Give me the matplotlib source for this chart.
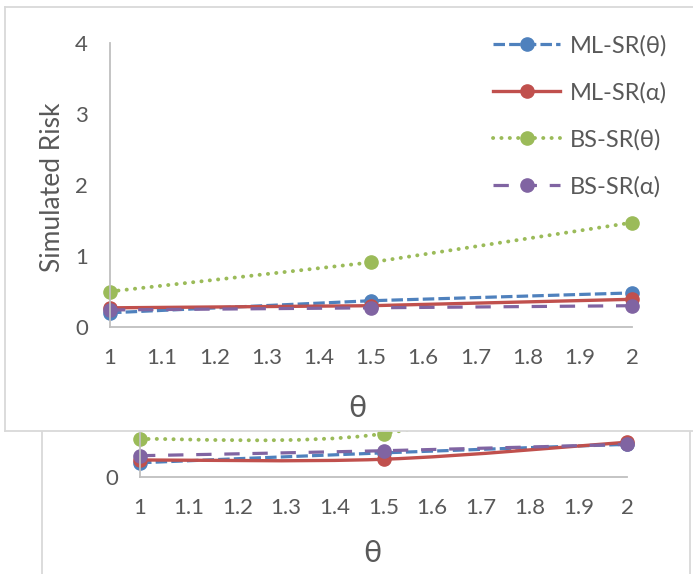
import matplotlib
matplotlib.use('Agg')
import matplotlib.pyplot as plt
from matplotlib.patches import Rectangle, PathPatch
from matplotlib.path import Path

# data
theta = [1.0, 1.5, 2.0]
ml_theta = [0.20, 0.37, 0.48]
ml_alpha = [0.27, 0.30, 0.39]
bs_theta = [0.50, 0.91, 1.47]
bs_alpha = [0.24, 0.27, 0.30]

# second chart (mostly hidden behind the first one), smoothed lines
ml_theta_b = [0.20, 0.34, 0.46]
ml_alpha_b = [0.24, 0.25, 0.49]
bs_theta_b = [0.535, 0.61, 1.50]
bs_alpha_b = [0.30, 0.37, 0.46]

labels = ['ML-SR(θ)', 'ML-SR(α)', 'BS-SR(θ)', 'BS-SR(α)']
colors = ['#4f81bd', '#c0504d', '#9bbb59', '#8064a2']
DOT = (0, (0.05, 2.1))
styles = [(0, (3.6, 1.3)), '-', DOT, (0, (4.8, 4.0))]
widths = [2.3, 2.4, 2.8, 2.3]
xticks = [1, 1.1, 1.2, 1.3, 1.4, 1.5, 1.6, 1.7, 1.8, 1.9, 2]
xticklabels = ['1', '1.1', '1.2', '1.3', '1.4', '1.5', '1.6', '1.7', '1.8', '1.9', '2']

W, H = 693, 574
TXT = '#595959'
AXC = '#bfbfbf'
plt.rcParams['font.family'] = ['Lato', 'DejaVu Sans']

fig = plt.figure(figsize=(W / 100, H / 100), dpi=100)

def fx(px): return px / W
def fy(py): return 1 - py / H

MS = 9.5

def capstyle(ls):
    return 'round' if ls == DOT else 'butt'

def draw_series(ax, series):
    handles = []
    for y, c, ls, lw in zip(series, colors, styles, widths):
        h, = ax.plot(theta, y, color=c, ls=ls, lw=lw, marker='o', ms=MS,
                     mec=c, mfc=c, clip_on=False, dash_capstyle=capstyle(ls))
        handles.append(h)
    return handles

def draw_smooth(ax, series):
    # Excel style smoothed line: cubic bezier through the points
    for y, c, ls, lw in zip(series, colors, styles, widths):
        pts = list(zip(theta, y))
        verts, codes = [pts[0]], [Path.MOVETO]
        for i in range(len(pts) - 1):
            p0 = pts[max(i - 1, 0)]; p1 = pts[i]
            p2 = pts[i + 1]; p3 = pts[min(i + 2, len(pts) - 1)]
            c1 = (p1[0] + (p2[0] - p0[0]) / 6, p1[1] + (p2[1] - p0[1]) / 6)
            c2 = (p2[0] - (p3[0] - p1[0]) / 6, p2[1] - (p3[1] - p1[1]) / 6)
            verts += [c1, c2, p2]; codes += [Path.CURVE4] * 3
        ax.add_patch(PathPatch(Path(verts, codes), fill=False, ec=c, lw=lw,
                               ls=ls, capstyle=capstyle(ls), clip_on=False))
        ax.plot(theta, y, ls='none', marker='o', ms=MS, mec=c, mfc=c, clip_on=False)

def style_axes(ax):
    ax.set_xlim(1, 2); ax.set_ylim(0, 4)
    for s in ['top', 'right']: ax.spines[s].set_visible(False)
    for s in ['left', 'bottom']:
        ax.spines[s].set_color(AXC); ax.spines[s].set_linewidth(1.3)
    ax.set_xticks(xticks); ax.set_xticklabels(xticklabels)
    ax.tick_params(length=0, labelsize=16, colors=TXT)
    ax.tick_params(axis='x', pad=15)
    ax.tick_params(axis='y', pad=16)
    ax.patch.set_alpha(0)

# bottom chart (behind)
fig.patches.append(Rectangle((fx(42), fy(H + 5)), fx(690) - fx(42), fy(300) - fy(H + 5),
    transform=fig.transFigure, fc='white', ec='#d9d9d9', lw=1.3, zorder=0))
axb = fig.add_axes([fx(140), fy(477), fx(627) - fx(140), 284 / H], zorder=1)
style_axes(axb)
axb.set_yticks([0])
draw_smooth(axb, [ml_theta_b, ml_alpha_b, bs_theta_b, bs_alpha_b])
fig.text(fx(372), fy(553), 'θ', fontsize=22, color=TXT, ha='center', va='center')

# top chart (front)
cover = fig.add_axes([fx(5), fy(431), fx(710) - fx(5), (431 - 7) / H], zorder=2)
cover.set_xticks([]); cover.set_yticks([])
cover.set_facecolor('white')
for s in cover.spines.values():
    s.set_color('#d9d9d9'); s.set_linewidth(1.3)

ax = fig.add_axes([fx(110), fy(327), fx(632) - fx(110), 284 / H], zorder=3)
style_axes(ax)
ax.set_yticks([0, 1, 2, 3, 4])
hs = draw_series(ax, [ml_theta, ml_alpha, bs_theta, bs_alpha])
fig.text(fx(357), fy(408), 'θ', fontsize=22, color=TXT, ha='center', va='center')
fig.text(fx(53), fy(187), 'Simulated Risk', fontsize=19, color=TXT,
         ha='center', va='center', rotation=90)

ax.legend(hs, labels, loc='upper left', bbox_to_anchor=(fx(493), fy(35)),
          bbox_transform=fig.transFigure, frameon=False, fontsize=17,
          labelcolor=TXT, handlelength=2.85, handletextpad=0.42,
          labelspacing=1.08, borderpad=0, borderaxespad=0, numpoints=1)

fig.savefig('out.png', dpi=100)
